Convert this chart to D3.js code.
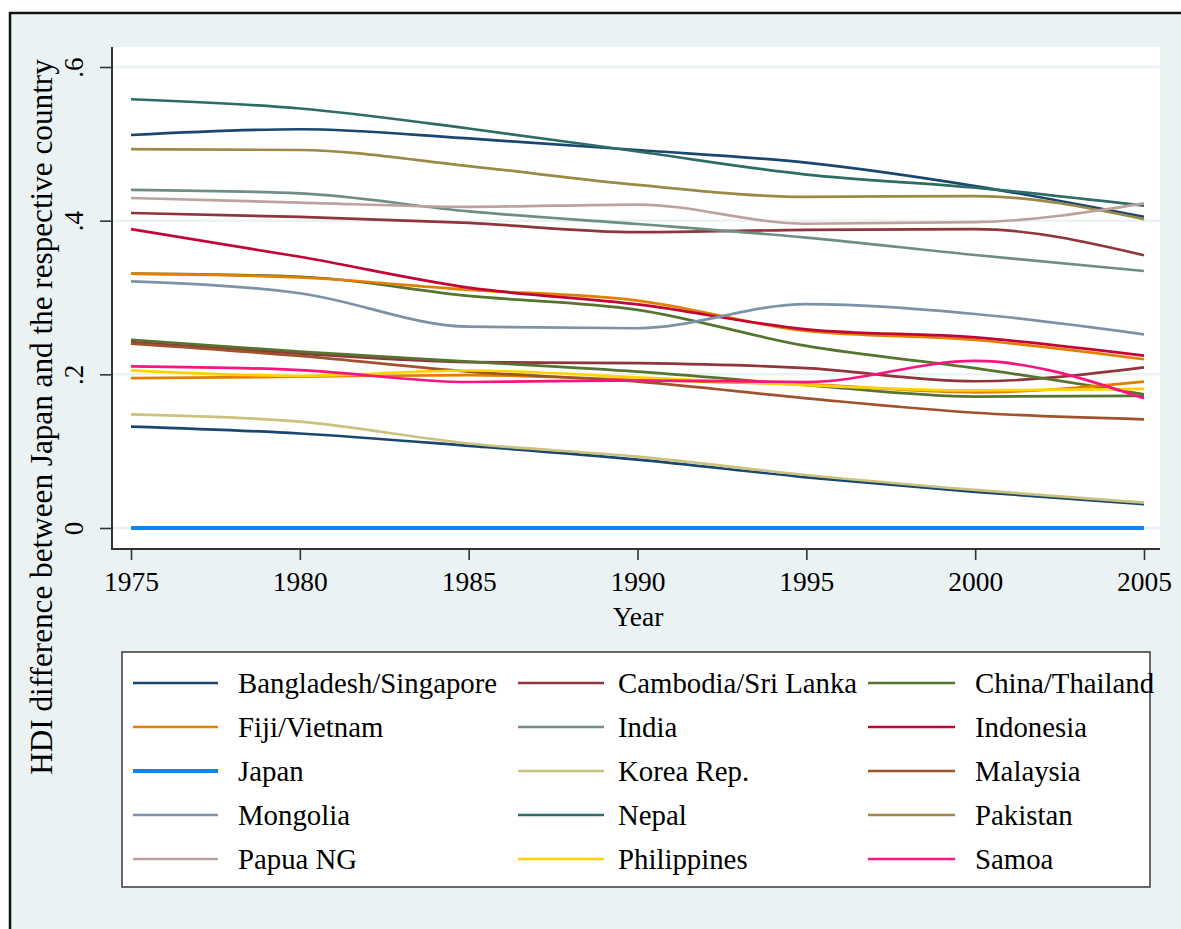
<!DOCTYPE html>
<html>
<head>
<meta charset="utf-8">
<script src="https://cdn.jsdelivr.net/npm/d3@7"></script>
<style>
  html, body { margin: 0; padding: 0; background: #ffffff; }
  svg { display: block; }
  text { font-family: "Liberation Serif", "Times New Roman", serif; fill: #000; }
</style>
</head>
<body>
<svg id="chart" width="1181" height="929"></svg>
<script>
// ---------------- data ----------------
const years = [1975, 1980, 1985, 1990, 1995, 2000, 2005];
const bangladesh  = [0.5115, 0.519, 0.507, 0.492, 0.4755, 0.445, 0.405];
const singapore   = [0.132, 0.123, 0.107, 0.089, 0.066, 0.047, 0.031];
const cambodia    = [0.410, 0.405, 0.397, 0.385, 0.388, 0.389, 0.355];
const sriLanka    = [0.242, 0.227, 0.216, 0.2145, 0.208, 0.191, 0.209];
const china       = [0.331, 0.327, 0.302, 0.284, 0.237, 0.208, 0.174];
const thailand    = [0.245, 0.2295, 0.2165, 0.2035, 0.186, 0.171, 0.172];
const fiji        = [0.331, 0.326, 0.310, 0.296, 0.2564, 0.2447, 0.2196];
const vietnam     = [0.195, 0.197, 0.199, 0.1926, 0.187, 0.1766, 0.1905];
const india       = [0.440, 0.4356, 0.412, 0.3957, 0.378, 0.3553, 0.3345];
const indonesia   = [0.389, 0.353, 0.3128, 0.291, 0.2586, 0.248, 0.2243];
const japan       = [0, 0, 0, 0, 0, 0, 0];
const korea       = [0.148, 0.1384, 0.110, 0.0929, 0.069, 0.0495, 0.033];
const malaysia    = [0.240, 0.224, 0.2035, 0.1905, 0.1688, 0.150, 0.1415];
const mongolia    = [0.321, 0.3055, 0.262, 0.260, 0.2915, 0.2785, 0.252];
const nepal       = [0.558, 0.546, 0.520, 0.490, 0.460, 0.443, 0.4195];
const pakistan    = [0.493, 0.492, 0.471, 0.4465, 0.431, 0.432, 0.402];
const papua       = [0.4295, 0.4235, 0.418, 0.421, 0.396, 0.398, 0.4226];
const philippines = [0.2052, 0.198, 0.205, 0.196, 0.186, 0.179, 0.181];
const samoa       = [0.2104, 0.2056, 0.190, 0.192, 0.190, 0.2174, 0.1688];

const legendLabels = ["Bangladesh/Singapore", "Cambodia/Sri Lanka", "China/Thailand",
  "Fiji/Vietnam", "India", "Indonesia", "Japan", "Korea Rep.", "Malaysia",
  "Mongolia", "Nepal", "Pakistan", "Papua NG", "Philippines", "Samoa"];
// values of each legend entry (one or two countries)
const groupValues = [[bangladesh, singapore], [cambodia, sriLanka], [china, thailand],
  [fiji, vietnam], [india], [indonesia], [japan], [korea], [malaysia],
  [mongolia], [nepal], [pakistan], [papua], [philippines], [samoa]];

const xTicks = [1975, 1980, 1985, 1990, 1995, 2000, 2005];
const yTicks = [0, 0.2, 0.4, 0.6];
const yTitle = "HDI difference between Japan and the respective country";
const xTitle = "Year";

// ---------------- styles ----------------
const colors = ["#1a476f", "#90353b", "#55752f", "#e37e00", "#6e8e84", "#c10534",
  "#0b84f5", "#cac27e", "#a0522d", "#7b92a8", "#2d6d66", "#9c8847", "#bfa19c",
  "#ffd200", "#fa1482"];
const widths = legendLabels.map(l => l === "Japan" ? 4.2 : 2.7);

const svg = d3.select("#chart");
const bg = "#eaf2f3";

// outer frame
svg.append("rect").attr("x", 10).attr("y", 13).attr("width", 1200).attr("height", 950)
  .attr("fill", bg).attr("stroke", "#111").attr("stroke-width", 2.5);

// plot region
const plot = { left: 112, right: 1160, top: 47, bottom: 549 };
svg.append("rect").attr("x", plot.left).attr("y", plot.top)
  .attr("width", plot.right - plot.left).attr("height", plot.bottom - plot.top)
  .attr("fill", "#ffffff");

const x = d3.scaleLinear().domain([1975, 2005]).range([131, 1144]);
const y = d3.scaleLinear().domain([0, 0.6]).range([528, 67]);

// gridlines
svg.append("g").selectAll("line").data(yTicks).join("line")
  .attr("x1", plot.left).attr("x2", plot.right)
  .attr("y1", d => y(d)).attr("y2", d => y(d))
  .attr("stroke", bg).attr("stroke-width", 2.5);

// lines
const line = d3.line().x((d, i) => x(years[i])).y(d => y(d)).curve(d3.curveMonotoneX);
const gLines = svg.append("g");
groupValues.forEach((grp, gi) => {
  grp.forEach(vals => {
    gLines.append("path").datum(vals).attr("d", line)
      .attr("fill", "none").attr("stroke", colors[gi])
      .attr("stroke-width", widths[gi]);
  });
});

// axes
const axisColor = "#333";
const yAxis = d3.axisLeft(y).tickValues(yTicks).tickSize(12).tickPadding(0)
  .tickFormat(d => d === 0 ? "0" : d3.format(".1f")(d).replace(/^0/, ""));
const gy = svg.append("g").attr("transform", `translate(${plot.left},0)`).call(yAxis);
gy.select(".domain").remove();
gy.selectAll(".tick line").attr("stroke", axisColor).attr("stroke-width", 1.6);
gy.selectAll(".tick text")
  .attr("transform", "rotate(-90)").attr("x", 0).attr("y", -29).attr("dy", 0)
  .attr("text-anchor", "middle").style("font-size", "27px")
  .style("font-family", "'Liberation Serif', serif");

const xAxis = d3.axisBottom(x).tickValues(xTicks).tickSize(11).tickPadding(11)
  .tickFormat(d3.format("d"));
const gx = svg.append("g").attr("transform", `translate(0,${plot.bottom})`).call(xAxis);
gx.select(".domain").remove();
gx.selectAll(".tick line").attr("stroke", axisColor).attr("stroke-width", 1.6);
gx.selectAll(".tick text").attr("dy", "0.71em").style("font-size", "27.5px")
  .style("font-family", "'Liberation Serif', serif");

svg.append("line").attr("x1", plot.left).attr("x2", plot.left)
  .attr("y1", plot.top).attr("y2", plot.bottom + 1)
  .attr("stroke", axisColor).attr("stroke-width", 2);
svg.append("line").attr("x1", plot.left).attr("x2", plot.right)
  .attr("y1", plot.bottom).attr("y2", plot.bottom)
  .attr("stroke", axisColor).attr("stroke-width", 2);

// axis titles
svg.append("text").attr("transform", "translate(52,417) rotate(-90)")
  .attr("text-anchor", "middle").style("font-size", "31.2px").text(yTitle);
svg.append("text").attr("x", 638).attr("y", 626)
  .attr("text-anchor", "middle").style("font-size", "27.5px").text(xTitle);

// legend
const lg = svg.append("g");
lg.append("rect").attr("x", 122).attr("y", 652).attr("width", 1028).attr("height", 235)
  .attr("fill", "#fff").attr("stroke", "#444").attr("stroke-width", 1.6);
const colLineX = [[133, 218], [518, 604], [868, 955]];
const colTextX = [238, 618, 975];
const rowY = [683, 727, 771, 815, 859];
legendLabels.forEach((lab, i) => {
  const c = i % 3, r = Math.floor(i / 3);
  lg.append("line").attr("x1", colLineX[c][0]).attr("x2", colLineX[c][1])
    .attr("y1", rowY[r]).attr("y2", rowY[r])
    .attr("stroke", colors[i]).attr("stroke-width", widths[i]);
  lg.append("text").attr("x", colTextX[c]).attr("y", rowY[r] + 10)
    .style("font-size", "28.8px").text(lab);
});
</script>
</body>
</html>
